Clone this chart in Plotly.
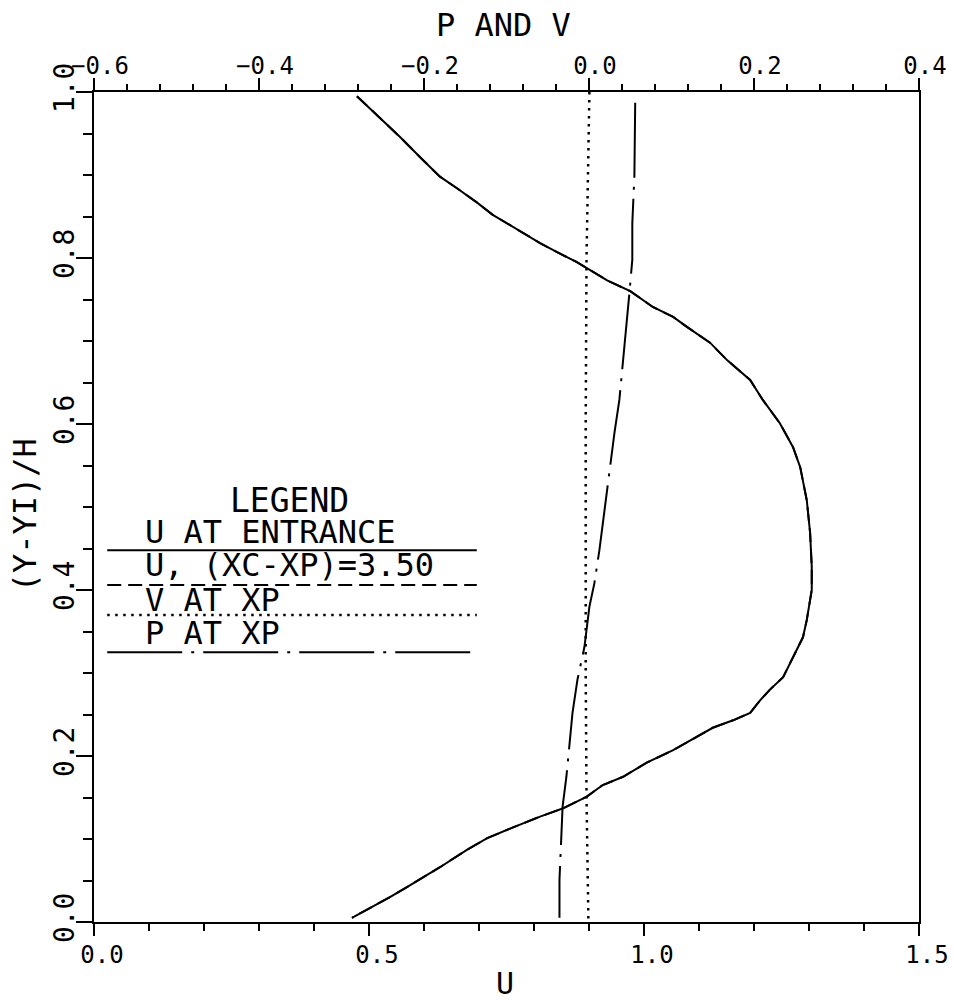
import plotly.graph_objects as go

# ---- data ----
# U profile (bottom axis) vs (Y-YI)/H
y_u = [0.995, 0.969, 0.946, 0.918, 0.898, 0.884, 0.867, 0.852, 0.837, 0.818, 0.807,
       0.795, 0.773, 0.760, 0.741, 0.729, 0.717, 0.698, 0.677, 0.653, 0.629, 0.601,
       0.572, 0.548, 0.508, 0.469, 0.428, 0.400, 0.388, 0.364, 0.343, 0.319, 0.295,
       0.280, 0.267, 0.252, 0.243, 0.234, 0.223, 0.207, 0.192, 0.175, 0.165, 0.151,
       0.137, 0.127, 0.114, 0.101, 0.087, 0.066, 0.042, 0.030, 0.005]
u_entrance = [0.478, 0.520, 0.556, 0.598, 0.629, 0.660, 0.696, 0.725, 0.762, 0.811, 0.842,
              0.878, 0.933, 0.975, 1.016, 1.053, 1.078, 1.120, 1.151, 1.193, 1.216, 1.247,
              1.271, 1.284, 1.296, 1.302, 1.305, 1.305, 1.302, 1.296, 1.289, 1.271, 1.253,
              1.229, 1.211, 1.193, 1.162, 1.125, 1.096, 1.053, 1.005, 0.962, 0.925, 0.896,
              0.853, 0.811, 0.762, 0.715, 0.678, 0.629, 0.569, 0.538, 0.469]
# U at (XC-XP)=3.50 coincides with the entrance profile in the reference
u_xp = list(u_entrance)

# V at XP (top axis)
y_v = [1.0, 0.9, 0.8, 0.6, 0.4, 0.3, 0.15, 0.05, 0.0]
v_xp = [0.0005, -0.001, -0.003, -0.004, -0.004, -0.004, -0.003, -0.0015, -0.0007]

# P at XP (top axis)
y_p = [0.987, 0.898, 0.842, 0.798, 0.758, 0.717, 0.665, 0.629, 0.589, 0.541, 0.500,
       0.448, 0.408, 0.380, 0.331, 0.292, 0.252, 0.211, 0.175, 0.139, 0.090, 0.051, 0.005]
p_xp = [0.056, 0.055, 0.0525, 0.0525, 0.049, 0.045, 0.040, 0.0368, 0.0308, 0.0247, 0.0186,
        0.0126, 0.0065, 0.0005, -0.0056, -0.014, -0.020, -0.0237, -0.0274, -0.032, -0.0346,
        -0.0358, -0.0358]

legend_labels = ["U AT ENTRANCE", "U, (XC-XP)=3.50", "V AT XP", "P AT XP"]

FONT = "DejaVu Sans Mono"
BLACK = "black"
DASH = "14px,7px"
DOT = "2.5px,5.5px"
DASHDOT = "75px,9px,3px,9px"

fig = go.Figure()
fig.add_trace(go.Scatter(x=u_xp, y=y_u, mode="lines", xaxis="x", yaxis="y",
                         line=dict(color=BLACK, width=2, dash=DASH)))
fig.add_trace(go.Scatter(x=u_entrance, y=y_u, mode="lines", xaxis="x", yaxis="y",
                         line=dict(color=BLACK, width=2)))
fig.add_trace(go.Scatter(x=v_xp, y=y_v, mode="lines", xaxis="x2", yaxis="y",
                         line=dict(color=BLACK, width=2.5, dash=DOT)))
fig.add_trace(go.Scatter(x=p_xp, y=y_p, mode="lines", xaxis="x2", yaxis="y",
                         line=dict(color=BLACK, width=2, dash=DASHDOT)))

tickfont = dict(family=FONT, size=24, color=BLACK)

fig.update_layout(
    width=955, height=1005, autosize=False,
    margin=dict(l=94, r=36, t=92, b=83, pad=0),
    paper_bgcolor="white", plot_bgcolor="white",
    showlegend=False,
    font=dict(family=FONT, color=BLACK),
    xaxis=dict(range=[0, 1.5], tick0=0, dtick=0.5, tickformat=".1f", automargin=False,
               showgrid=False, zeroline=False, showline=True, linecolor=BLACK, linewidth=2,
               ticks="outside", ticklen=12, tickwidth=2, tickcolor=BLACK,
               tickfont=tickfont, ticklabelshift=8, ticklabelstandoff=-2,
               minor=dict(tick0=0, dtick=0.1, ticks="outside", ticklen=7, tickwidth=2,
                          tickcolor=BLACK, showgrid=False)),
    xaxis2=dict(range=[-0.6, 0.4], tick0=-0.6, dtick=0.2, tickformat=".1f", automargin=False,
                overlaying="x", side="top", anchor="y",
                showgrid=False, zeroline=False, showline=True, linecolor=BLACK, linewidth=2,
                ticks="outside", ticklen=12, tickwidth=2, tickcolor=BLACK,
                tickfont=tickfont, ticklabelshift=6, ticklabelstandoff=-6,
                minor=dict(tick0=-0.6, dtick=0.04, ticks="outside", ticklen=6, tickwidth=2,
                           tickcolor=BLACK, showgrid=False)),
    yaxis=dict(range=[0, 1], tick0=0, dtick=0.2, tickformat=".1f", tickangle=-90,
               automargin=False,
               showgrid=False, zeroline=False, showline=True, linecolor=BLACK, linewidth=2,
               mirror=True,
               ticks="outside", ticklen=16, tickwidth=2, tickcolor=BLACK,
               tickfont=dict(family=FONT, size=28, color=BLACK), ticklabelstandoff=-9,
               minor=dict(tick0=0, dtick=0.05, ticks="outside", ticklen=9, tickwidth=2,
                          tickcolor=BLACK, showgrid=False)),
)

# axis titles
fig.add_annotation(text="P AND V", xref="paper", yref="paper", x=0.496, y=1.081,
                   xanchor="center", yanchor="middle",
                   showarrow=False, font=dict(family=FONT, size=32, color=BLACK))
fig.add_annotation(text="U", xref="paper", yref="paper", x=0.498, y=-0.0735,
                   xanchor="center", yanchor="middle",
                   showarrow=False, font=dict(family=FONT, size=30, color=BLACK))
fig.add_annotation(text="(Y-YI)/H", xref="paper", yref="paper", x=-0.0836, y=0.49,
                   xanchor="center", yanchor="middle",
                   textangle=-90, showarrow=False, font=dict(family=FONT, size=32, color=BLACK))

# legend box drawn inside the plot
leg_x0, leg_x1 = 0.024, 0.696
leg_text_x = 0.089
line_y = [0.448, 0.406, 0.370, 0.325]
text_y = [0.470, 0.430, 0.388, 0.348]
dashes = ["solid", DASH, DOT, DASHDOT]
widths = [2, 2, 2.5, 2]
fig.add_annotation(text="LEGEND", xref="x", yref="y", x=0.356, y=0.508,
                   showarrow=False, font=dict(family=FONT, size=33, color=BLACK))
for lab, ly, ty, d, w in zip(legend_labels, line_y, text_y, dashes, widths):
    fig.add_annotation(text=lab, xref="x", yref="y", x=leg_text_x, y=ty, xanchor="left",
                       showarrow=False, font=dict(family=FONT, size=32, color=BLACK))
    fig.add_shape(type="line", xref="x", yref="y", x0=leg_x0, x1=leg_x1, y0=ly, y1=ly,
                  line=dict(color=BLACK, width=w, dash=d))

fig.write_html("out.html", config={"displayModeBar": False},
               post_script="document.body.style.margin='0';")
